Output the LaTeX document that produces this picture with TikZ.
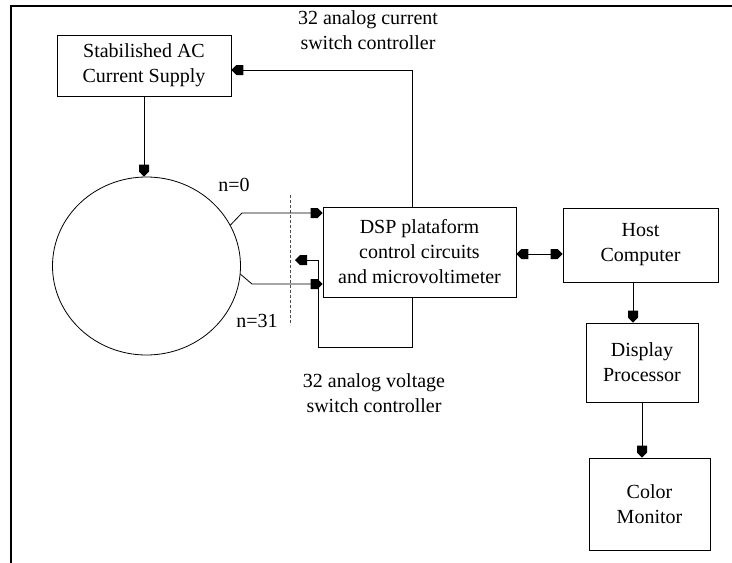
\documentclass[tikz,border=0pt]{standalone}
\usepackage{fontspec}
\setmainfont{Liberation Serif}
\usetikzlibrary{shapes.geometric}

% filled pentagon-shaped arrow tip
\pgfdeclarearrow{
  name = pent,
  setup code = {
    \pgfarrowssettipend{0pt}
    \pgfarrowssetbackend{-12pt}
    \pgfarrowssetlineend{-6pt}
    \pgfarrowsupperhullpoint{0pt}{0pt}
    \pgfarrowsupperhullpoint{-12pt}{5pt}
  },
  drawing code = {
    \pgfpathmoveto{\pgfqpoint{0pt}{0pt}}
    \pgfpathlineto{\pgfqpoint{-5pt}{5pt}}
    \pgfpathlineto{\pgfqpoint{-12pt}{5pt}}
    \pgfpathlineto{\pgfqpoint{-12pt}{-5pt}}
    \pgfpathlineto{\pgfqpoint{-5pt}{-5pt}}
    \pgfpathclose
    \pgfusepathqfill
  },
}

\tikzset{
  blockbox/.style={draw, line width=0.8pt, align=center, inner sep=0pt,
    font=\fontsize{20}{25}\selectfont},
  lbl/.style={align=center, inner sep=0pt, font=\fontsize{20}{25}\selectfont},
  wire/.style={line width=0.8pt},
}

\begin{document}
\begin{tikzpicture}[x=1pt, y=-1pt]
\useasboundingbox (0,0) rectangle (732,563);

% frame edges
\draw[line width=2.5pt] (11,563) -- (11,6) -- (732,6);

% blocks
\node[blockbox, minimum width=174pt, minimum height=61pt] (supply) at (144,65.5)
  {Stabilished AC\\Current Supply};
\node[draw, ellipse, line width=0.8pt, minimum width=188pt, minimum height=178pt, inner sep=0pt]
  (ring) at (146.5,266) {};
\node[blockbox, minimum width=193pt, minimum height=90pt] (dsp) at (419.5,252)
  {DSP plataform\\control circuits\\and microvoltimeter};
\node[blockbox, minimum width=155pt, minimum height=74pt] (host) at (640.5,245)
  {Host\\Computer};
\node[blockbox, minimum width=112pt, minimum height=79pt] (disp) at (642,362.5)
  {Display\\Processor};
\node[blockbox, minimum width=121pt, minimum height=92pt] (mon) at (649.5,504)
  {Color\\Monitor};

% labels
\node[lbl] (lcur) at (368,30) {32 analog current\\switch controller};
\node[lbl] (lvol) at (374,393) {32 analog voltage\\switch controller};
\node[lbl] (n0) at (234,185) {n=0};
\node[lbl] (n31) at (257,321) {n=31};

% helper points
\coordinate (k0) at (242,213);
\coordinate (k31) at (252,284);
\coordinate (lp) at (318,347);
\coordinate (vt) at (295,260);

% separator
\draw[line width=0.8pt, black!70, dash pattern=on 3pt off 2pt] (290,195) -- (290,325);

% connectors
\draw[wire, -pent] (supply.south) -- (supply.south |- ring.north);
\draw[wire, -pent] ([xshift=-7.5pt]dsp.north) |- ([yshift=-4.5pt]supply.east);
\draw[wire, -pent] (ring.26) -- (k0) -- (k0 -| dsp.west);
\draw[wire, -pent] (ring.-5) -- (k31) -- (k31 -| dsp.west);
\draw[wire, -pent] ([xshift=-7.5pt]dsp.south) |- (lp) |- (vt);
\draw[wire, pent-pent] ([yshift=-2pt]dsp.east) -- ([yshift=-2pt]dsp.east -| host.west);
\draw[wire, -pent] ([xshift=-7.5pt]host.south) -- ([xshift=-7.5pt]host.south |- disp.north);
\draw[wire, -pent] (disp.south) -- (disp.south |- mon.north);
\end{tikzpicture}
\end{document}
